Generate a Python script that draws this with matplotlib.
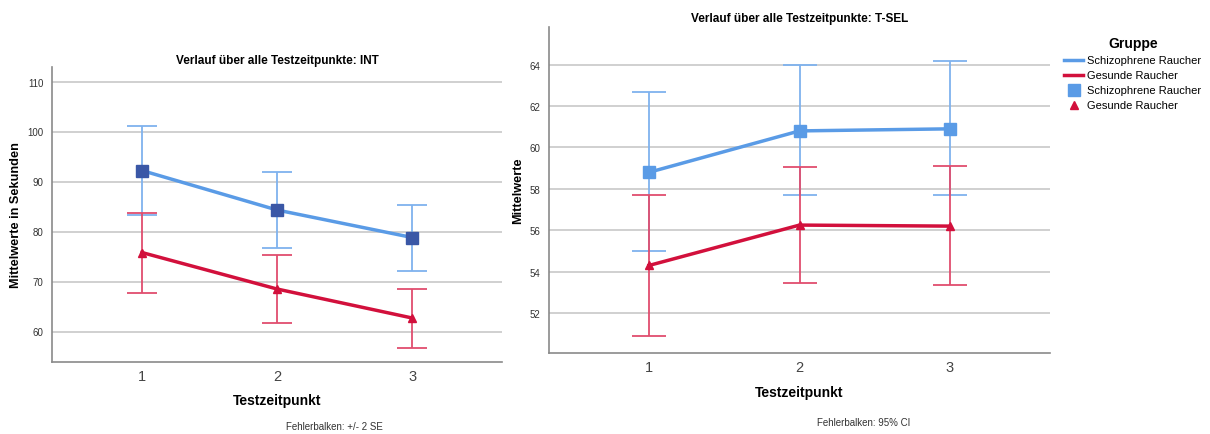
import matplotlib
matplotlib.use('Agg')
import matplotlib.pyplot as plt
from matplotlib.lines import Line2D
import numpy as np

plt.rcParams['font.family'] = ['Liberation Sans', 'DejaVu Sans']

zeitpunkte = [1, 2, 3]

# INT (Fehlerbalken +/- 2 SE)
int_schizo = [92.2, 84.3, 78.8]
int_schizo_hi = [101.2, 91.9, 85.4]
int_schizo_lo = [83.3, 76.7, 72.1]
int_gesund = [75.8, 68.5, 62.7]
int_gesund_hi = [83.8, 75.3, 68.5]
int_gesund_lo = [67.7, 61.8, 56.7]

# T-SEL (Fehlerbalken 95% CI)
tsel_schizo = [58.8, 60.8, 60.9]
tsel_schizo_hi = [62.7, 64.0, 64.2]
tsel_schizo_lo = [55.0, 57.7, 57.7]
tsel_gesund = [54.3, 56.25, 56.2]
tsel_gesund_hi = [57.7, 59.05, 59.1]
tsel_gesund_lo = [50.9, 53.45, 53.35]

blue = '#5a9be6'
blue_err = '#7fb2ee'
red = '#d2103c'
red_err = '#e04d6e'
dark_sq = '#3a57a6'
grid_c = '#c8c8c8'
spine_c = '#8a8a8a'


def panel(ax, s, s_hi, s_lo, g, g_hi, g_lo, sq_color, cap, ylim, yticks, ylabel, xpad):
    s = np.array(s); g = np.array(g)
    ax.errorbar(zeitpunkte, s, yerr=[s - np.array(s_lo), np.array(s_hi) - s],
                fmt='none', ecolor=blue_err, elinewidth=1.3, capsize=cap, capthick=1.3, zorder=2)
    ax.errorbar(zeitpunkte, g, yerr=[g - np.array(g_lo), np.array(g_hi) - g],
                fmt='none', ecolor=red_err, elinewidth=1.3, capsize=cap, capthick=1.3, zorder=2)
    ax.plot(zeitpunkte, s, color=blue, lw=2.5, zorder=3)
    ax.plot(zeitpunkte, g, color=red, lw=2.5, zorder=3)
    ax.plot(zeitpunkte, s, 's', color=sq_color, ms=8, zorder=4)
    ax.plot(zeitpunkte, g, '^', color=red, ms=6, zorder=4)
    ax.set_xlim(0.335, 3.665)
    ax.set_ylim(*ylim)
    ax.set_yticks(yticks)
    ax.set_xticks(zeitpunkte)
    ax.yaxis.grid(True, color=grid_c, lw=1.2)
    ax.set_axisbelow(True)
    for sp in ['top', 'right']:
        ax.spines[sp].set_visible(False)
    for sp in ['left', 'bottom']:
        ax.spines[sp].set_color(spine_c)
        ax.spines[sp].set_linewidth(1.2)
    ax.tick_params(axis='y', length=0, labelsize=7, labelcolor='#333333', pad=6)
    ax.tick_params(axis='x', length=0, labelsize=10.5, labelcolor='#444444', pad=5)
    ax.set_xlabel('Testzeitpunkt', fontsize=10, fontweight='bold', labelpad=xpad)
    ax.set_ylabel(ylabel, fontsize=9.2, fontweight='bold', labelpad=4)


fig = plt.figure(figsize=(12.1, 4.35), dpi=100)

ax1 = fig.add_axes([52/1210, 72/435, 450/1210, 295/435])
panel(ax1, int_schizo, int_schizo_hi, int_schizo_lo,
      int_gesund, int_gesund_hi, int_gesund_lo, dark_sq, 10.5,
      (53.9, 112.9), [60, 70, 80, 90, 100, 110], 'Mittelwerte in Sekunden', 7)
ax1.set_title('Verlauf über alle Testzeitpunkte: INT', fontsize=8.5, fontweight='bold', pad=3)

ax2 = fig.add_axes([549/1210, 81/435, 501/1210, 326/435])
panel(ax2, tsel_schizo, tsel_schizo_hi, tsel_schizo_lo,
      tsel_gesund, tsel_gesund_hi, tsel_gesund_lo, blue, 12,
      (50.07, 65.82), [52, 54, 56, 58, 60, 62, 64], 'Mittelwerte', 8)
ax2.set_title('Verlauf über alle Testzeitpunkte: T-SEL', fontsize=8.5, fontweight='bold', pad=4)

fig.text(334/1210, 1 - 427/435, 'Fehlerbalken: +/- 2 SE', fontsize=7, color='#333333',
         ha='center', va='center')
fig.text(864/1210, 1 - 423/435, 'Fehlerbalken: 95% CI', fontsize=7, color='#333333',
         ha='center', va='center')

handles = [Line2D([], [], color=blue, lw=2.5),
           Line2D([], [], color=red, lw=2.5),
           Line2D([], [], ls='none', marker='s', color=blue, ms=8),
           Line2D([], [], ls='none', marker='^', color=red, ms=6)]
labels = ['Schizophrene Raucher', 'Gesunde Raucher', 'Schizophrene Raucher', 'Gesunde Raucher']
leg = fig.legend(handles, labels, loc='upper left', bbox_to_anchor=(1060/1210, 1 - 33/435),
                 frameon=False, fontsize=8, title='Gruppe', handlelength=1.7,
                 handletextpad=0.35, labelspacing=0.45, borderaxespad=0)
leg.get_title().set_fontweight('bold')
leg.get_title().set_fontsize(10)

fig.savefig('out.png', dpi=100)
